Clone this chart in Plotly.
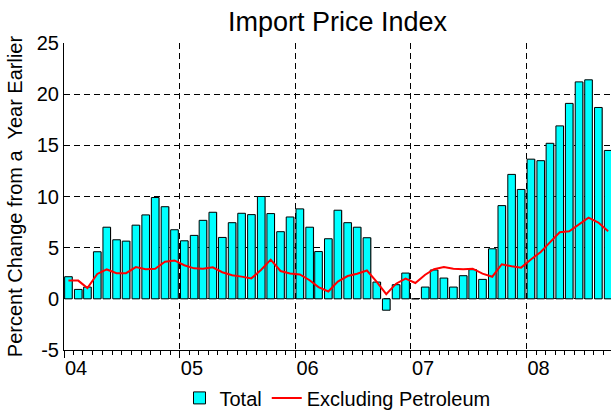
import pandas as pd
import plotly.graph_objects as go

# Monthly observations, Jan 2004 .. Sep 2008 (plotted mid-month)
months = pd.date_range("2004-01-01", periods=57, freq="MS") + pd.Timedelta(days=14)

total = [
    2.16, 0.92, 1.15, 4.6, 7.0, 5.77, 5.64, 7.2, 8.2, 9.9, 9.0, 6.75,      # 2004
    5.67, 6.2, 7.67, 8.46, 6.0, 7.44, 8.36, 8.23, 10.0, 8.33, 6.56, 8.0,    # 2005
    8.79, 7.0, 4.62, 5.87, 8.66, 7.44, 7.0, 5.97, 1.64, -1.11, 1.38, 2.52,  # 2006
    0.0, 1.15, 2.82, 2.03, 1.15, 2.26, 2.85, 1.9, 4.89, 9.11, 12.16, 10.69, # 2007
    13.65, 13.5, 15.2, 16.9, 19.1, 21.2, 21.4, 18.7, 14.5,                  # 2008
]
excl_petroleum = [
    1.78, 1.78, 1.06, 2.43, 2.87, 2.51, 2.51, 3.1, 2.9, 2.93, 3.62, 3.75,
    3.28, 2.98, 2.95, 3.08, 2.6, 2.3, 2.17, 2.0, 2.85, 3.83, 2.72, 2.48,
    2.39, 1.82, 1.15, 0.72, 1.68, 2.23, 2.45, 2.77, 1.65, 0.45, 1.48, 1.97,
    1.55, 2.35, 2.9, 3.1, 2.95, 2.9, 2.95, 2.46, 2.16, 3.38, 3.18, 3.05,
    3.85, 4.58, 5.52, 6.5, 6.6, 7.28, 7.93, 7.45, 6.6,
]
year_ticks = ["2004-01-01", "2005-01-01", "2006-01-01", "2007-01-01", "2008-01-01"]
year_labels = ["04", "05", "06", "07", "08"]
y_ticks = [-5, 0, 5, 10, 15, 20, 25]
y_labels = ["-5", "0", "5", "10", "15", "20", "25"]

DAY = 86400000
bar_w = 24 * DAY
FONT = "Liberation Sans, Arial, sans-serif"

fig = go.Figure()
# drop shadow behind bars
fig.add_trace(go.Bar(
    x=months, y=total, width=bar_w, offset=-10 * DAY,
    marker=dict(color="#8a8a8a", line=dict(width=0)),
    showlegend=False, hoverinfo="skip",
))
fig.add_trace(go.Bar(
    x=months, y=total, width=bar_w, offset=-12 * DAY, name="Total",
    marker=dict(color="#00FFFF", line=dict(color="black", width=1)),
))
fig.add_trace(go.Scatter(
    x=months, y=excl_petroleum, mode="lines", name="Excluding Petroleum",
    line=dict(color="#FF0000", width=2),
))

fig.update_layout(
    width=611, height=411,
    margin=dict(l=64, r=0, t=43, b=61, autoexpand=False),
    paper_bgcolor="white", plot_bgcolor="white",
    barmode="overlay",
    font=dict(family=FONT, size=20, color="black"),
    title=dict(text="Import Price Index", x=0.5, xref="paper", xanchor="center",
               y=1 - 22 / 411, yanchor="middle", font=dict(size=27)),
    showlegend=True,
    legend=dict(orientation="h", x=0.5, xanchor="center", y=-0.156, yanchor="middle",
                font=dict(size=20), bgcolor="rgba(0,0,0,0)", itemwidth=30,
                tracegroupgap=0),
    xaxis=dict(
        type="date", range=["2004-01-01", "2008-09-24"],
        tickvals=year_ticks, ticktext=year_labels,
        ticks="outside", ticklen=7, tickcolor="black",
        ticklabelposition="outside right",
        showline=True, linecolor="black", linewidth=1,
        showgrid=True, gridcolor="black", gridwidth=1, griddash="6px,4px",
        zeroline=False,
        minor=dict(ticks="outside", dtick="M1", tick0="2004-01-01", ticklen=4,
                   tickcolor="black", showgrid=False),
        tickfont=dict(size=20),
    ),
    yaxis=dict(
        range=[-5, 25], tickvals=y_ticks, ticktext=y_labels,
        showline=True, linecolor="black", linewidth=1,
        showgrid=True, gridcolor="black", gridwidth=1, griddash="6px,4px",
        zeroline=False, ticks="",
        tickfont=dict(size=20),
        title=dict(text="Percent Change from a  Year Earlier", font=dict(size=20), standoff=8),
    ),
)

fig.write_html(
    "out.html",
    config={"displayModeBar": False},
    post_script="document.body.style.margin='0px';document.body.style.overflow='hidden';",
)
